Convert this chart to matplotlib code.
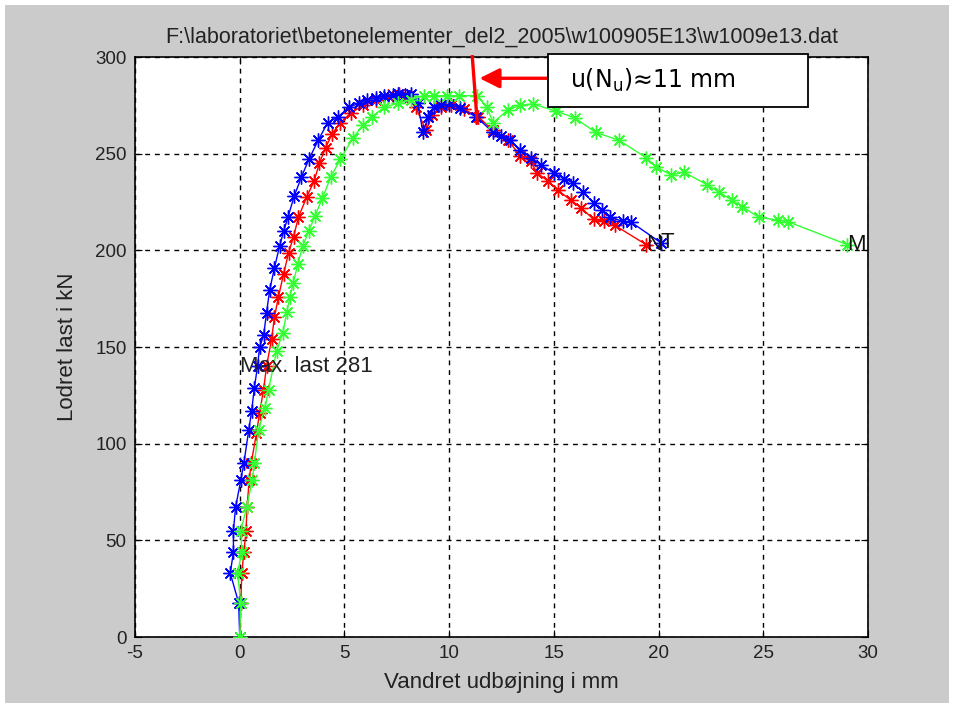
import matplotlib
matplotlib.use("Agg")
import matplotlib.pyplot as plt
from matplotlib.patches import Rectangle, FancyArrowPatch

plt.rcParams['axes.unicode_minus'] = False
plt.rcParams['font.family'] = ['Liberation Sans', 'DejaVu Sans']

# ---- data ----
# blue series, label "T"
t_x = [0.0, -0.05, -0.45, -0.3, -0.3, -0.2, 0.05, 0.2, 0.43, 0.57, 0.7, 0.85, 0.95, 1.14, 1.28, 1.43,
       1.66, 1.9, 2.1, 2.3, 2.6, 2.95, 3.3, 3.75, 4.2, 4.7, 5.2, 5.7, 6.1, 6.5, 6.9, 7.3, 7.55, 7.9,
       8.2, 8.5, 8.75, 9.0, 9.3, 9.6, 10.0, 10.5, 11.3, 12.1, 12.5, 12.9, 13.4, 13.9, 14.4, 15.0,
       15.5, 15.9, 16.4, 16.9, 17.3, 17.7, 18.3, 18.7, 20.1]
t_y = [0, 17.6, 33, 44, 55, 67, 81, 90, 107, 117, 129, 140, 150, 156, 167.6, 179.5,
       191, 202, 210, 217, 228, 238, 247, 257, 266, 269, 274, 276, 278, 279, 280, 280.5, 281, 280.5,
       281, 276, 261, 269, 274, 275, 275.5, 273.6, 269, 261, 259, 257, 252, 248, 244, 240,
       237, 235, 230, 224.5, 221, 217, 215, 214.5, 204]

# red series, label "N"
n_x = [0.0, 0.05, 0.1, 0.2, 0.3, 0.35, 0.45, 0.55, 0.8, 0.95, 1.14, 1.28, 1.52, 1.66, 1.85, 2.1,
       2.33, 2.57, 2.8, 3.2, 3.56, 3.8, 4.1, 4.4, 4.8, 5.3, 5.9, 6.5, 7.1, 7.6, 8.0, 8.4, 8.9, 9.2,
       9.6, 10.1, 10.7, 11.4, 12.1, 12.8, 13.4, 13.9, 14.2, 14.7, 15.2, 15.8, 16.3, 16.9, 17.4,
       17.9, 19.4]
n_y = [0, 17.6, 33, 44, 55, 67, 81, 90, 105.5, 116, 128, 140, 154, 165.5, 176, 188,
       198.6, 207, 217, 227.6, 236, 245, 253, 260, 266, 271, 275, 278, 280, 281, 280, 274, 262, 270,
       274, 275, 273, 269, 262, 257, 249, 246, 240, 236, 231, 226, 222, 216, 215,
       213, 203]

# green series, label "M"
m_x = [0.0, 0.05, -0.1, 0.1, 0.05, 0.33, 0.6, 0.7, 0.9, 1.2, 1.38, 1.76, 2.05, 2.25, 2.4, 2.55,
       2.78, 3.0, 3.3, 3.6, 3.95, 4.35, 4.8, 5.4, 5.9, 6.3, 6.9, 7.55, 8.2, 8.8, 9.3, 9.9, 10.45,
       11.35, 11.8, 12.1, 12.8, 13.4, 14.0, 15.1, 16.0, 17.0, 18.1, 19.4, 19.9, 20.6, 21.2, 22.3,
       22.9, 23.5, 24.0, 24.8, 25.7, 26.2, 29.0]
m_y = [0, 17.6, 33, 44, 55, 67, 81, 90, 107, 118.5, 128, 148, 157, 168, 176, 183,
       193, 202, 210, 218, 227, 238, 247, 258, 265, 269, 274, 276, 278, 280, 280, 280, 280,
       280, 274, 266, 272.6, 275, 275.7, 272, 268.5, 261, 257, 248, 243, 239, 240.5, 234,
       230, 226, 222.5, 217, 215.7, 214.7, 203]

series = [(n_x, n_y, '#ff0000', 'N'), (t_x, t_y, '#0000ff', 'T'), (m_x, m_y, '#33ff33', 'M')]

x_ticks = [-5, 0, 5, 10, 15, 20, 25, 30]
y_ticks = [0, 50, 100, 150, 200, 250, 300]

title = r"F:\laboratoriet\betonelementer_del2_2005\w100905E13\w1009e13.dat"
xlabel = "Vandret udbøjning i mm"
ylabel = "Lodret last i kN"
max_text = "Max. last 281"
note_text = r"u(N$_\mathregular{u}$)≈11 mm"

# ---- figure ----
W, H = 954, 708
fig = plt.figure(figsize=(W / 100, H / 100), dpi=100, facecolor='white')
fig.patches.append(Rectangle((5 / W, 5 / H), 1 - 10 / W, 1 - 10 / H,
                             transform=fig.transFigure, facecolor='#cbcbcb',
                             edgecolor='none', zorder=-10))

ax = fig.add_axes([135 / W, 1 - 637 / H, (868 - 135) / W, (637 - 57) / H])
ax.set_facecolor('white')

for xs, ys, c, lab in series:
    ax.plot(xs, ys, '-', color=c, lw=1.0, marker=(8, 2, 0), markersize=10,
            markeredgewidth=1.0, zorder=3)
    ax.text(xs[-1], ys[-1], lab, ha='left', va='center', fontsize=16, color='#111111', zorder=4)

ax.text(0, 140, max_text, ha='left', va='center', fontsize=16, color='#222222', zorder=4)

ax.set_xlim(-5, 30)
ax.set_ylim(0, 300)
ax.set_xticks(x_ticks)
ax.set_yticks(y_ticks)
ax.tick_params(direction='in', length=5, top=True, right=True, labelsize=13.5, pad=6,
               labelcolor='#222222')
ax.grid(True, color='black', linestyle=(0, (3.5, 3.5)), linewidth=1.0)
for s in ax.spines.values():
    s.set_linewidth(1.2)

ax.set_title(title, fontsize=15.5, pad=10, color='#222222')
ax.set_xlabel(xlabel, fontsize=16, labelpad=7, color='#222222')
ax.set_ylabel(ylabel, fontsize=16, labelpad=12, color='#222222')

# ---- annotation ----
ax.plot([11.1, 11.35], [301, 265], color='#ff0000', lw=2.4, clip_on=False, zorder=6,
        solid_capstyle='butt')
arr = FancyArrowPatch((14.73, 289), (11.45, 289), arrowstyle='-|>,head_length=0.8,head_width=0.4',
                      mutation_scale=15, color='#ff0000', lw=2.4, clip_on=False, zorder=6,
                      shrinkA=0, shrinkB=0)
ax.add_patch(arr)
fig.patches.append(Rectangle((548 / W, 1 - 107 / H), (808 - 548) / W, (107 - 54) / H,
                             transform=fig.transFigure, facecolor='white',
                             edgecolor='black', linewidth=1.3, zorder=5))
fig.text(570 / W, 1 - 80 / H, note_text, ha='left', va='center', fontsize=17,
         family='DejaVu Sans', zorder=7)

fig.savefig('out.png', dpi=100, facecolor=fig.get_facecolor())
